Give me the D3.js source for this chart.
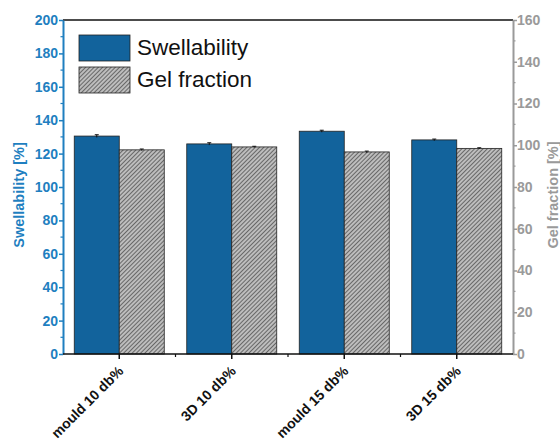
<!DOCTYPE html>
<html>
<head>
<meta charset="utf-8">
<script src="https://cdn.jsdelivr.net/npm/d3@7"></script>
<style>
  body { margin: 0; background: #fff; }
  svg { font-family: "Liberation Sans", Arial, sans-serif; }
</style>
</head>
<body>
<div id="chart"></div>
<script>
// donnees
var categories = ["mould 10 db%", "3D 10 db%", "mould 15 db%", "3D 15 db%"];
var swellability = [130.5, 125.8, 133.4, 128.2];
var swellErr = [0.8, 0.7, 0.6, 0.5];
var gelFraction = [97.8, 99.2, 96.8, 98.5];
var gelErr = [0.4, 0.3, 0.4, 0.3];
var leftTicks = [0, 20, 40, 60, 80, 100, 120, 140, 160, 180, 200];
var rightTicks = [0, 20, 40, 60, 80, 100, 120, 140, 160];

var W = 560, H = 445;
var margin = {top: 20, right: 47, bottom: 91, left: 63};
var w = W - margin.left - margin.right,
    h = H - margin.top - margin.bottom;

var blue = "#12639c", axisBlue = "#1f7fc0", grey = "#9a9a9a";

var svg = d3.select("#chart").append("svg")
  .attr("width", W).attr("height", H);

// motif hachure pour gel fraction
var defs = svg.append("defs");
var pat = defs.append("pattern").attr("id", "hatch")
  .attr("patternUnits", "userSpaceOnUse")
  .attr("width", 3).attr("height", 3)
  .attr("patternTransform", "rotate(45)");
pat.append("rect").attr("width", 3).attr("height", 3).attr("fill", "#bdbdbd");
pat.append("line").attr("x1", 0).attr("y1", 0).attr("x2", 0).attr("y2", 3)
  .attr("stroke", "#3a3a3a").attr("stroke-width", 1.3);

var g = svg.append("g").attr("transform", "translate(" + margin.left + "," + margin.top + ")");

var x = d3.scaleBand().domain(categories).range([0, w]).paddingInner(0.2).paddingOuter(0.1);
var yL = d3.scaleLinear().domain([0, 200]).range([h, 0]);
var yR = d3.scaleLinear().domain([0, 160]).range([h, 0]);

// barres
var groups = g.selectAll(".grp").data(categories).enter().append("g")
  .attr("transform", function(d){ return "translate(" + x(d) + ",0)"; });
var bw = x.bandwidth() / 2;

groups.append("rect")
  .attr("x", 0).attr("width", bw)
  .attr("y", function(d, i){ return yL(swellability[i]); })
  .attr("height", function(d, i){ return h - yL(swellability[i]); })
  .attr("fill", blue).attr("stroke", "#222").attr("stroke-width", 0.8);

groups.append("rect")
  .attr("x", bw).attr("width", bw)
  .attr("y", function(d, i){ return yR(gelFraction[i]); })
  .attr("height", function(d, i){ return h - yR(gelFraction[i]); })
  .attr("fill", "url(#hatch)").attr("stroke", "#222").attr("stroke-width", 0.8);

// barres d'erreur
function errBar(sel, cx, yScale, vals, errs) {
  sel.append("line")
    .attr("x1", cx).attr("x2", cx)
    .attr("y1", function(d, i){ return yScale(vals[i] + errs[i]); })
    .attr("y2", function(d, i){ return yScale(vals[i] - errs[i]); })
    .attr("stroke", "#111").attr("stroke-width", 1);
  sel.append("line")
    .attr("x1", cx - 2).attr("x2", cx + 2)
    .attr("y1", function(d, i){ return yScale(vals[i] + errs[i]); })
    .attr("y2", function(d, i){ return yScale(vals[i] + errs[i]); })
    .attr("stroke", "#111").attr("stroke-width", 1);
}
errBar(groups, bw / 2, yL, swellability, swellErr);
errBar(groups, bw * 1.5, yR, gelFraction, gelErr);

// cadre haut
g.append("line").attr("x1", 0).attr("x2", w).attr("y1", 0).attr("y2", 0)
  .attr("stroke", "#111").attr("stroke-width", 1.5);

// axe gauche
var axL = g.append("g").call(d3.axisLeft(yL).tickValues(leftTicks).tickSize(4).tickSizeOuter(0));
axL.select(".domain").attr("stroke", axisBlue).attr("stroke-width", 2);
axL.selectAll(".tick line").attr("stroke", axisBlue).attr("stroke-width", 1.5);
axL.selectAll(".tick text").attr("fill", axisBlue)
  .style("font-size", "14px").style("font-weight", "bold").attr("x", -5);
// petites graduations
var minorL = d3.range(10, 200, 20);
g.append("g").selectAll("line").data(minorL).enter().append("line")
  .attr("x1", 0).attr("x2", -2.5)
  .attr("y1", function(d){ return yL(d); }).attr("y2", function(d){ return yL(d); })
  .attr("stroke", axisBlue).attr("stroke-width", 1.2);

// axe droit
var axR = g.append("g").attr("transform", "translate(" + w + ",0)")
  .call(d3.axisRight(yR).tickValues(rightTicks).tickSize(4).tickSizeOuter(0));
axR.select(".domain").attr("stroke", grey).attr("stroke-width", 2);
axR.selectAll(".tick line").attr("stroke", grey).attr("stroke-width", 1.5);
axR.selectAll(".tick text").attr("fill", grey)
  .style("font-size", "14px").style("font-weight", "bold").attr("x", 4);
var minorR = d3.range(10, 160, 20);
g.append("g").selectAll("line").data(minorR).enter().append("line")
  .attr("x1", w).attr("x2", w + 2.5)
  .attr("y1", function(d){ return yR(d); }).attr("y2", function(d){ return yR(d); })
  .attr("stroke", grey).attr("stroke-width", 1.2);

// axe du bas
var axB = g.append("g").attr("transform", "translate(0," + h + ")");
axB.append("line").attr("x1", 0).attr("x2", w).attr("stroke", "#111").attr("stroke-width", 1.5);
axB.selectAll(".maj").data(categories).enter().append("line")
  .attr("x1", function(d){ return x(d) + bw; }).attr("x2", function(d){ return x(d) + bw; })
  .attr("y1", 0).attr("y2", 5).attr("stroke", "#111").attr("stroke-width", 1.5);
axB.selectAll(".min").data(categories.slice(1)).enter().append("line")
  .attr("x1", function(d){ return x(d) - x.step() * x.paddingInner() / 2; })
  .attr("x2", function(d){ return x(d) - x.step() * x.paddingInner() / 2; })
  .attr("y1", 0).attr("y2", 3).attr("stroke", "#111").attr("stroke-width", 1.2);
axB.selectAll(".lbl").data(categories).enter().append("text")
  .attr("transform", function(d){ return "translate(" + (x(d) + bw + 5) + ",18) rotate(-45)"; })
  .attr("text-anchor", "end")
  .style("font-size", "14px").style("font-weight", "bold").attr("fill", "#111")
  .text(function(d){ return d; });

// titres des axes
svg.append("text")
  .attr("transform", "translate(24,195) rotate(-90)")
  .attr("text-anchor", "middle").attr("fill", axisBlue)
  .style("font-size", "14.5px").style("font-weight", "bold")
  .text("Swellability [%]");
svg.append("text")
  .attr("transform", "translate(558,195) rotate(-90)")
  .attr("text-anchor", "middle").attr("fill", grey)
  .style("font-size", "14.5px").style("font-weight", "bold")
  .text("Gel fraction [%]");

// legende
var legend = svg.append("g").attr("transform", "translate(79,35)");
legend.append("rect").attr("width", 51).attr("height", 26)
  .attr("fill", blue).attr("stroke", "#222").attr("stroke-width", 0.8);
legend.append("rect").attr("y", 32).attr("width", 51).attr("height", 26)
  .attr("fill", "url(#hatch)").attr("stroke", "#222").attr("stroke-width", 0.8);
legend.append("text").attr("x", 58).attr("y", 20).style("font-size", "22.5px").attr("fill", "#111")
  .text("Swellability");
legend.append("text").attr("x", 58).attr("y", 52).style("font-size", "22.5px").attr("fill", "#111")
  .text("Gel fraction");
</script>
</body>
</html>
